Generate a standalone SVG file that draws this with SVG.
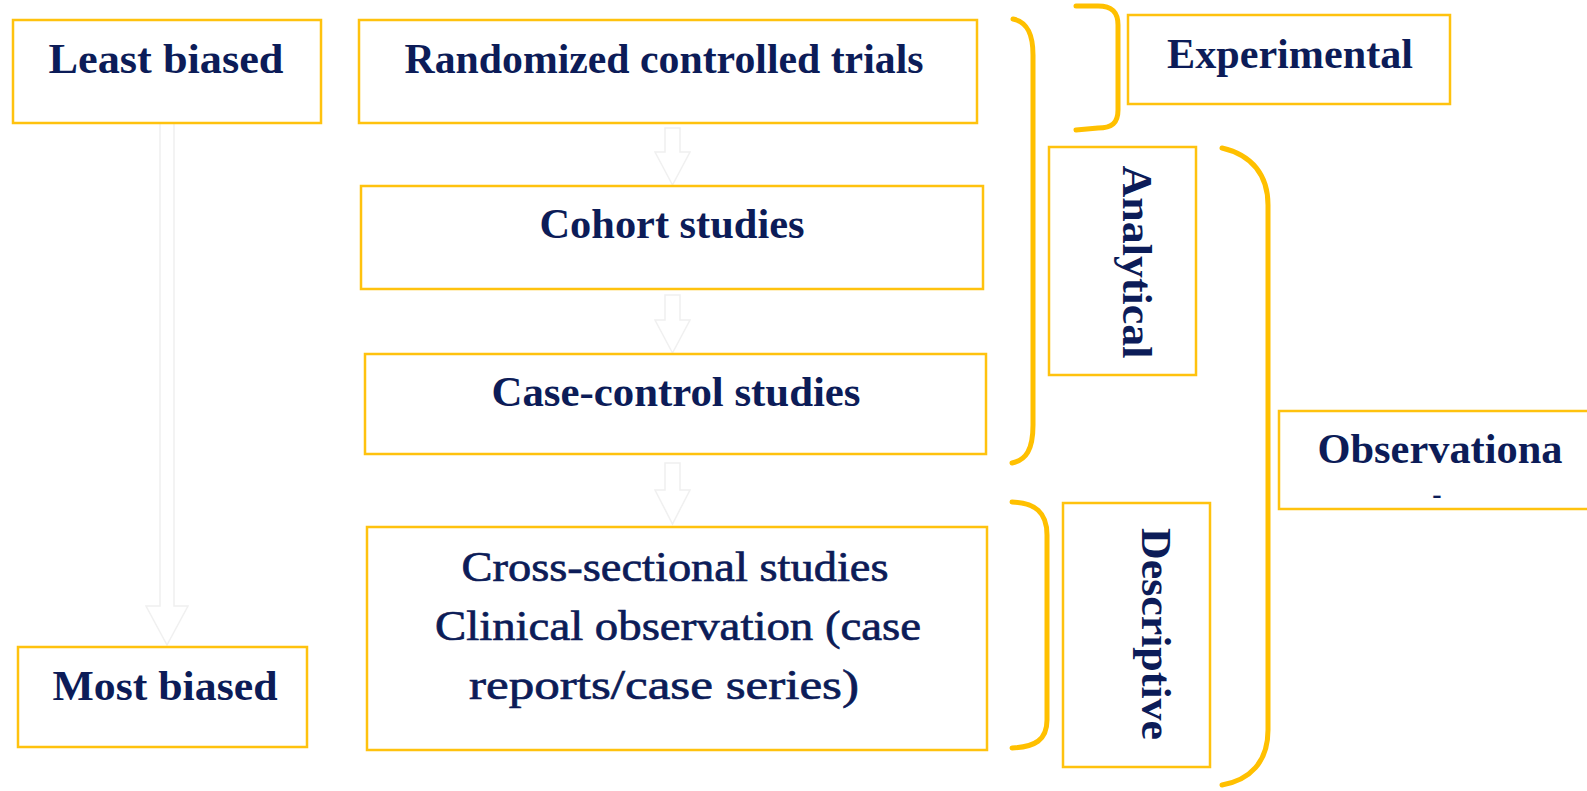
<svg xmlns="http://www.w3.org/2000/svg" width="1587" height="791" viewBox="0 0 1587 791">
<style>
.box{fill:#ffffff;stroke:#ffc20e;stroke-width:2.5}
.br{fill:none;stroke:#ffc000;stroke-width:5;stroke-linecap:round;stroke-linejoin:round}
.arr{fill:#ffffff;stroke:#f0f0f0;stroke-width:1.5}
.t{font-family:"Liberation Serif","Times New Roman",serif;font-weight:bold;font-size:42px;fill:#0c1c58;text-anchor:middle}
.tr{font-family:"Liberation Serif","Times New Roman",serif;font-weight:normal;font-size:42px;fill:#0c1c58;stroke:#0c1c58;stroke-width:0.7;text-anchor:middle}
</style>
<rect x="0" y="0" width="1587" height="791" fill="#ffffff"/>
<g id="connectors">
  <path class="arr" d="M160,123 L174,123 L174,606 L188,606 L167,645 L146,606 L160,606 Z"/>
  <path class="arr" d="M665,128 L680,128 L680,152 L690,152 L672.5,185 L655,152 L665,152 Z"/>
  <path class="arr" d="M665,295 L680,295 L680,320 L690,320 L672.5,353 L655,320 L665,320 Z"/>
  <path class="arr" d="M665,463 L680,463 L680,490 L690,490 L672.5,524 L655,490 L665,490 Z"/>
  <path class="br" d="M1013,19 C1028,22 1033,35 1033,55 L1033,425 C1033,450 1026,460 1012,463"/>
  <path class="br" d="M1076,6 L1098,6 C1112,6 1118,12 1118,25 L1118,110 C1118,123 1112,128 1098,128 L1076,130"/>
  <path class="br" d="M1222,148 C1252,155 1268,175 1268,205 L1268,730 C1268,762 1250,780 1222,785"/>
  <path class="br" d="M1012,502 C1035,503 1047,512 1047,535 L1047,720 C1047,740 1035,747 1012,748"/>
</g>
<g id="least-biased">
  <rect class="box" x="13" y="20" width="308" height="103"/>
  <text class="t" x="166" y="73" textLength="235" lengthAdjust="spacingAndGlyphs">Least biased</text>
</g>
<g id="most-biased">
  <rect class="box" x="18" y="647" width="289" height="100"/>
  <text class="t" x="165" y="700" textLength="225" lengthAdjust="spacingAndGlyphs">Most biased</text>
</g>
<g id="rct">
  <rect class="box" x="359" y="20" width="618" height="103"/>
  <text class="t" x="664" y="73" textLength="519" lengthAdjust="spacingAndGlyphs">Randomized controlled trials</text>
</g>
<g id="cohort">
  <rect class="box" x="361" y="186" width="622" height="103"/>
  <text class="t" x="672" y="238" textLength="265" lengthAdjust="spacingAndGlyphs">Cohort studies</text>
</g>
<g id="case-control">
  <rect class="box" x="365" y="354" width="621" height="100"/>
  <text class="t" x="676" y="406" textLength="369" lengthAdjust="spacingAndGlyphs">Case-control studies</text>
</g>
<g id="cross-sectional">
  <rect class="box" x="367" y="527" width="620" height="223"/>
  <text class="tr" x="675" y="581" textLength="427" lengthAdjust="spacingAndGlyphs">Cross-sectional studies</text>
  <text class="tr" x="678" y="640" textLength="486" lengthAdjust="spacingAndGlyphs">Clinical  observation (case</text>
  <text class="tr" x="664" y="699" textLength="390" lengthAdjust="spacingAndGlyphs">reports/case series)</text>
</g>
<g id="experimental">
  <rect class="box" x="1128" y="15" width="322" height="89"/>
  <text class="t" x="1290" y="68" textLength="246" lengthAdjust="spacingAndGlyphs">Experimental</text>
</g>
<g id="analytical">
  <rect class="box" x="1049" y="147" width="147" height="228"/>
  <text class="t" transform="translate(1123,262) rotate(90)" x="0" y="0" textLength="193" lengthAdjust="spacingAndGlyphs">Analytical</text>
</g>
<g id="descriptive">
  <rect class="box" x="1063" y="503" width="147" height="264"/>
  <text class="t" transform="translate(1142,634) rotate(90)" x="0" y="0" textLength="212" lengthAdjust="spacingAndGlyphs">Descriptive</text>
</g>
<g id="observational">
  <rect class="box" x="1279" y="411" width="312" height="98"/>
  <text class="t" x="1440" y="463" textLength="245" lengthAdjust="spacingAndGlyphs">Observationa</text>
  <text class="t" x="1437" y="503" style="font-size:28px">-</text>
</g>
</svg>
